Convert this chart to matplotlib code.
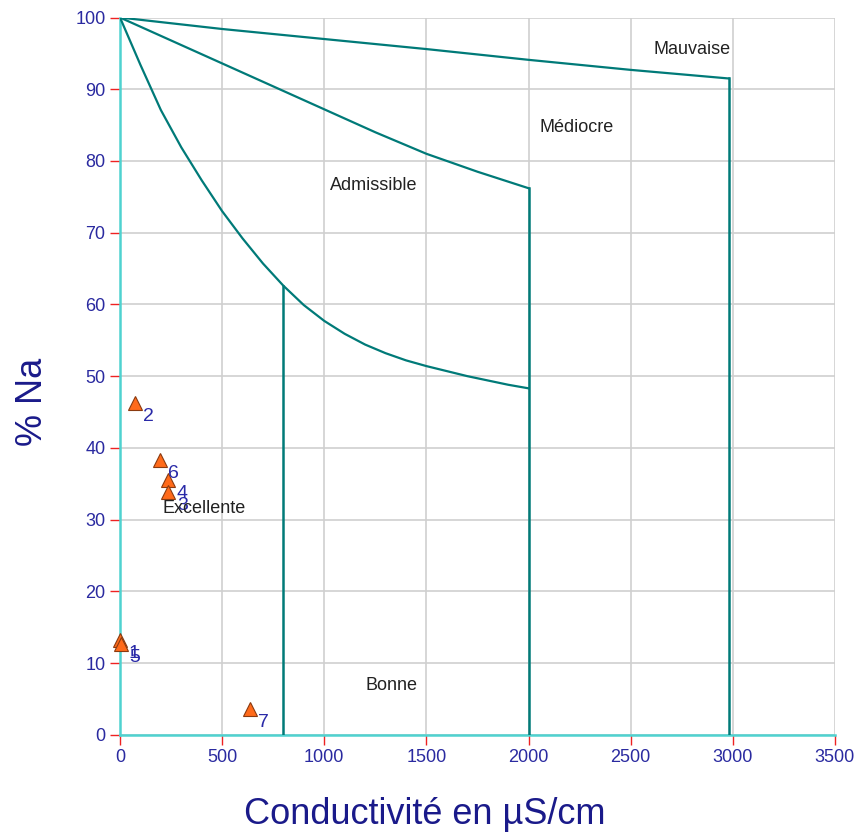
import matplotlib
matplotlib.use("Agg")
import matplotlib.pyplot as plt

plt.rcParams['font.family'] = ['Liberation Sans', 'DejaVu Sans']

# Boundary curves of the Wilcox diagram
lower_x = [0, 100, 200, 300, 400, 500, 600, 700, 800, 900, 1000,
           1100, 1200, 1300, 1400, 1500, 1600, 1700, 1800, 1900, 2000]
lower_y = [100, 93.4, 87.1, 81.9, 77.3, 73.0, 69.2, 65.7, 62.6, 59.9, 57.7,
           55.9, 54.4, 53.2, 52.2, 51.4, 50.7, 50.0, 49.4, 48.8, 48.3]
middle_x = [0, 250, 500, 750, 1000, 1250, 1500, 1750, 2000]
middle_y = [100, 96.8, 93.6, 90.4, 87.2, 84.0, 81.0, 78.5, 76.2]
upper_x = [0, 500, 1000, 1500, 2000, 2500, 2980]
upper_y = [100, 98.4, 97.0, 95.6, 94.1, 92.7, 91.5]

# Vertical class limits: (x, top y)
vlines_x = [800, 2000, 2980]
vlines_top = [62.6, 76.2, 91.5]

# Samples
sample_labels = ['1', '5', '2', '6', '4', '3', '7']
sample_x = [0, 5, 73, 196, 237, 237, 637]
sample_y = [13.2, 12.6, 46.2, 38.3, 35.5, 33.8, 3.6]

# Region names
region_names = ['Mauvaise', 'Médiocre', 'Admissible', 'Excellente', 'Bonne']
region_x = [2800, 2235, 1243, 411, 1328]
region_y = [95.5, 84.6, 76.6, 31.6, 6.8]

xticks = [0, 500, 1000, 1500, 2000, 2500, 3000, 3500]
yticks = list(range(0, 101, 10))

fig = plt.figure(figsize=(8.59, 8.34), dpi=100)
ax = fig.add_axes([0.1397, 0.119, 0.8323, 0.860])

teal = '#007a78'
ax.plot(lower_x, lower_y, color=teal, lw=1.6, zorder=3)
ax.plot(middle_x, middle_y, color=teal, lw=1.6, zorder=3)
ax.plot(upper_x, upper_y, color=teal, lw=1.6, zorder=3)
for vx, vt in zip(vlines_x, vlines_top):
    ax.plot([vx, vx], [0, vt], color=teal, lw=1.8, zorder=3)

ax.plot(sample_x, sample_y, linestyle='none', marker='^', markersize=10,
        markerfacecolor='#ff6a1a', markeredgecolor='#8a3a10', markeredgewidth=0.8,
        zorder=5, clip_on=False)
for lab, sx, sy in zip(sample_labels, sample_x, sample_y):
    ax.annotate(lab, (sx, sy), xytext=(6, -13), textcoords='offset points',
                color='#2a2aa8', fontsize=14, zorder=6)

for name, rx, ry in zip(region_names, region_x, region_y):
    ax.text(rx, ry, name, ha='center', va='center', fontsize=13, color='#222222', zorder=6)

ax.set_xlim(0, 3500)
ax.set_ylim(0, 100)
ax.set_xticks(xticks)
ax.set_yticks(yticks)
ax.grid(True, color='#cfcfcf', lw=1.2, zorder=0)
ax.set_axisbelow(True)

for s in ['top', 'right']:
    ax.spines[s].set_visible(False)
for s in ['left', 'bottom']:
    ax.spines[s].set_color('#4fd2d0')
    ax.spines[s].set_linewidth(1.8)

ax.tick_params(axis='both', colors='#ee2222', length=7, width=1.0,
               labelcolor='#2a2aa0', labelsize=13)

fig.text(0.495, 0.023, 'Conductivité en µS/cm', fontsize=26, color='#1a1a8a',
         ha='center', va='center')
fig.text(0.038, 0.518, '% Na', fontsize=26, color='#1a1a8a',
         ha='center', va='center', rotation=90)

fig.savefig('out.png', dpi=100)
